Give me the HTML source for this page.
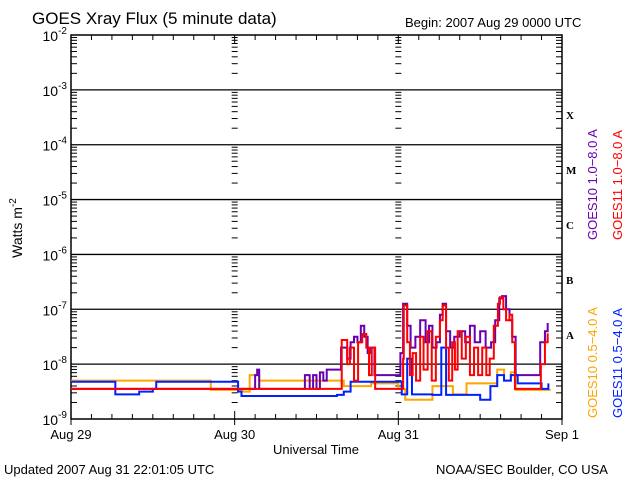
<!DOCTYPE html>
<html><head><meta charset="utf-8"><style>
body{margin:0;background:#fff;width:640px;height:480px;overflow:hidden}
svg{display:block;font-family:"Liberation Sans","DejaVu Sans",sans-serif}
</style></head><body>
<svg id="chart" width="640" height="480" viewBox="0 0 640 480">
<text x="32" y="24" font-size="17">GOES Xray Flux (5 minute data)</text>
<text x="405" y="27" font-size="13">Begin:  2007 Aug 29 0000 UTC</text>
<text x="4" y="474" font-size="13">Updated 2007 Aug 31 22:01:05 UTC</text>
<text x="436" y="474" font-size="13">NOAA/SEC Boulder, CO USA</text>
<text x="316" y="454" font-size="13" text-anchor="middle">Universal Time</text>
<text transform="translate(22,228) rotate(-90)" font-size="14" text-anchor="middle">Watts m<tspan font-size="10" dy="-6">-2</tspan></text>
<g id="grid"></g><g id="axes"></g><g id="series"></g>
<g font-family="Liberation Serif,serif" font-size="11" font-weight="bold">
<text x="566" y="119">X</text>
<text x="566" y="174">M</text>
<text x="566" y="229">C</text>
<text x="566" y="284">B</text>
<text x="566" y="339">A</text>
</g>
<g font-size="13">
<text transform="translate(597,240) rotate(-90)" fill="#6a00b0">GOES10 1.0−8.0 A</text>
<text transform="translate(622,240) rotate(-90)" fill="#ff0000">GOES11 1.0−8.0 A</text>
<text transform="translate(597,418) rotate(-90)" fill="#ffa500">GOES10 0.5−4.0 A</text>
<text transform="translate(622,418) rotate(-90)" fill="#0020ff">GOES11 0.5−4.0 A</text>
</g>
</svg>
<script>
const dayLabels=["Aug 29","Aug 30","Aug 31","Sep 1"];
const decades=[-9,-8,-7,-6,-5,-4,-3,-2];
const redT=[0,39.4,39.7,40.5,40.9,41.5,42.1,42.7,43.3,43.7,44.1,44.6,48.2,48.7,48.8,49.3,49.7,50.1,50.6,51.2,51.7,52.3,52.9,53.5,54.1,54.5,55.0,55.4,55.9,56.3,56.7,57.3,57.9,58.5,59.1,59.7,60.3,60.9,61.4,62.0,62.6,62.9,63.4,63.8,64.3,64.7,65.1,68.4,68.9,69.5,69.9];
const redV=[-8.45,-8.45,-7.56,-8.0,-7.7,-8.3,-7.6,-7.45,-7.7,-8.2,-7.7,-8.45,-8.45,-7.9,-6.93,-7.6,-8.2,-7.8,-8.3,-7.5,-8.1,-7.4,-8.3,-7.5,-7.2,-6.93,-7.7,-8.3,-7.6,-8.1,-7.4,-7.9,-7.5,-8.2,-7.7,-8.2,-7.7,-8.2,-7.9,-7.3,-6.9,-6.78,-7.0,-7.2,-7.1,-7.6,-8.45,-8.45,-8.0,-7.6,-7.44];
const purT=[0,26.5,27.0,27.3,27.6,34,34.3,35,35.5,36,36.5,37,37.5,39.3,39.6,40.5,41,41.5,42,42.5,43,43.5,44,44.5,47.9,48.3,48.7,49.3,49.8,50.5,51.2,52,52.5,53,53.6,54.1,54.5,55,55.6,56.2,57,57.8,58.5,59.2,60,60.8,61.6,62.2,62.8,63.2,63.8,64.3,64.7,65.2,68.2,68.8,69.5,69.9];
const purV=[-8.45,-8.45,-8.2,-8.1,-8.45,-8.45,-8.2,-8.45,-8.2,-8.45,-8.15,-8.3,-8.1,-8.1,-7.7,-7.9,-7.6,-7.5,-7.6,-7.3,-7.5,-7.8,-7.7,-8.2,-8.2,-7.8,-6.9,-7.3,-7.7,-7.5,-7.2,-7.6,-7.3,-7.7,-7.6,-7.1,-6.9,-7.4,-7.7,-7.5,-7.4,-7.6,-7.3,-7.6,-7.4,-7.7,-7.6,-7.2,-6.8,-6.76,-7.0,-7.2,-7.5,-8.2,-8.2,-7.6,-7.4,-7.25];
const oraT=[0,19.6,20.5,24,25.2,26.2,27.2,27.6,30,39,40,44,48,49,52,53,56,58,62,62.5,63.5,64.5,65.2,70,70.2];
const oraV=[-8.3,-8.3,-8.47,-8.47,-8.5,-8.2,-8.2,-8.3,-8.3,-8.3,-8.4,-8.35,-8.45,-8.65,-8.65,-8.4,-8.55,-8.35,-8.35,-8.1,-8.3,-8.15,-8.47,-8.47,-8.45];
const bluT=[0,5.7,6.5,10,12,12.5,23,24.5,25,39,40,41,48,48.5,49.3,50,53,54.3,55,59.5,60,61,61.5,62.5,63.5,64.5,65.5,68,69,70];
const bluV=[-8.32,-8.32,-8.55,-8.5,-8.45,-8.32,-8.32,-8.5,-8.58,-8.56,-8.5,-8.32,-8.32,-8.55,-7.9,-8.55,-8.56,-7.7,-8.56,-8.56,-8.65,-8.65,-8.4,-8.2,-8.3,-8.2,-8.35,-8.35,-8.45,-8.35];

const X0=71,X1=562,Y0=35,Y1=419;
const xs=h=>X0+h*(X1-X0)/72;
const ys=L=>Y1-(L+9)*(Y1-Y0)/7;
const NS="http://www.w3.org/2000/svg";
function mk(tag,attrs,parent){const e=document.createElementNS(NS,tag);for(const k in attrs)e.setAttribute(k,attrs[k]);parent.appendChild(e);return e;}
const grid=document.getElementById('grid'),axes=document.getElementById('axes'),ser=document.getElementById('series');
const frame=mk('rect',{x:X0,y:Y0,width:X1-X0,height:Y1-Y0,fill:'none',stroke:'#000','stroke-width':1.5},axes);


decades.forEach(d=>{
  const y=ys(d);
  if(d>-9&&d<-2){const l=mk('line',{x1:X0,x2:X1,y1:y,y2:y,stroke:'#000','stroke-width':1.3},grid);
    
    }
  const t=mk('text',{x:X0-4,y:y+6,'font-size':14,'text-anchor':'end'},axes);
  
  
  t.textContent='10';
  const s=mk('tspan',{'font-size':10,dy:-7},t);s.textContent=String(d);
  if(d<-2){for(let m=2;m<=9;m++){const yy=ys(d+Math.log10(m));
    [X0,xs(24),xs(48),X1].forEach((xx,i)=>{const w=(i==0)?[0,6]:(i==3)?[-6,0]:[-3,3];
      mk('line',{x1:xx+w[0],x2:xx+w[1],y1:yy,y2:yy,stroke:'#000','stroke-width':1},axes);});}}
});
for(let h=0;h<=72;h+=3){const x=xs(h),len=(h%24==0)?8:5;
  mk('line',{x1:x,x2:x,y1:Y0,y2:Y0+len,stroke:'#000'},axes);
  mk('line',{x1:x,x2:x,y1:Y1,y2:Y1-len,stroke:'#000'},axes);
  if(h%24==0){mk('line',{x1:x,x2:x,y1:Y1,y2:Y1+6,stroke:'#000'},axes);}}
dayLabels.forEach((lab,i)=>{const t=mk('text',{x:xs(i*24),y:439,'font-size':13,'text-anchor':'middle'},axes);
  
  
  t.textContent=lab;});
function step(T,V){let d='M'+xs(T[0])+','+ys(V[0]);for(let i=1;i<T.length;i++){d+=' H'+xs(T[i])+' V'+ys(V[i]);}return d;}
const list=[[oraT,oraV,'#ffa500','series-goes10-short'],[purT,purV,'#6a00b0','series-goes10-long'],[bluT,bluV,'#0020ff','series-goes11-short'],[redT,redV,'#ff0000','series-goes11-long']];
list.forEach(s=>{const p=mk('path',{d:step(s[0],s[1]),fill:'none',stroke:s[2],'stroke-width':2},ser);
  
  });
</script>
</body></html>
